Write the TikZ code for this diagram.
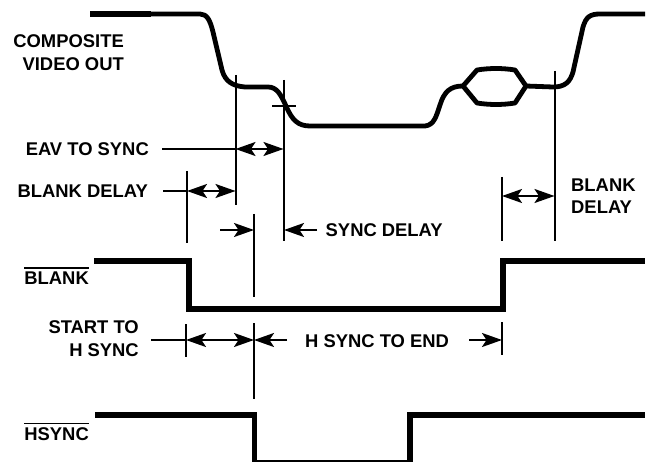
\documentclass[tikz,border=0pt]{standalone}
\usepackage{fontspec}
\setmainfont{Liberation Sans}
\usetikzlibrary{arrows.meta}
\newcommand{\barred}[1]{\vbox{\hrule height 1.5pt\kern3.6pt\hbox{#1}}}
\tikzset{
    wave/.style={line width=4.8pt, line join=round},
    pulse/.style={line width=5.5pt, line join=miter},
    marker/.style={line width=2pt},
    dim/.style={line width=2pt, {Stealth[length=20pt,width=14pt,inset=4.5pt]}-{Stealth[length=20pt,width=14pt,inset=4.5pt]}},
    dimto/.style={line width=2pt, -{Stealth[length=20pt,width=14pt,inset=4.5pt]}},
    lbl/.style={font=\bfseries\fontsize{18.4}{22.5}\selectfont, inner sep=0pt, align=right},
}
\begin{document}
\begin{tikzpicture}[x=1pt, y=-1pt]
    \useasboundingbox (0,0) rectangle (647,462);
    % composite video
    \draw[line width=5.5pt] (90,14) -- (151,14);
    \draw[wave] (151,14) -- (200,14) .. controls (207,14) and (210,20) .. (213,32)
        -- (222,70) .. controls (225,81) and (232,86) .. (245,87) -- (268,87)
        .. controls (277,87) and (281,95) .. (286,106) .. controls (292,120) and (298,126) .. (310,126)
        -- (425,126) .. controls (434,125) and (436,117) .. (440,105) .. controls (444,92) and (450,86) .. (463,86);
    \draw[wave] (463,86) -- (477,70) .. controls (490,68) and (502,68) .. (515,70) -- (526,86);
    \draw[wave] (463,86) -- (477,103) .. controls (490,105) and (502,105) .. (515,103) -- (526,86);
    \draw[wave] (526,86) -- (553,87) .. controls (565,87) and (570,82) .. (573,72)
        -- (583,27) .. controls (586,17) and (590,14) .. (600,14) -- (645,14);
    \node[lbl, anchor=east] (video) at (124,52.5) {COMPOSITE\\VIDEO OUT};
    % markers
    \coordinate (eavtop) at (235.5,75);
    \coordinate (eavbot) at (235.5,205);
    \coordinate (synctop) at (283.5,80);
    \coordinate (syncbot) at (283.5,241);
    \coordinate (bdtop) at (187,171);
    \coordinate (bdbot) at (187,243);
    \coordinate (hstop) at (254,214);
    \coordinate (hsbot) at (254,297);
    \coordinate (endtop) at (502,177);
    \coordinate (endbot) at (502,241);
    \coordinate (rbtop) at (554.5,71);
    \coordinate (rbbot) at (554.5,241);
    \draw[marker] (eavtop) -- (eavbot);
    \draw[marker] (synctop) -- (syncbot);
    \draw[marker] (bdtop) -- (bdbot);
    \draw[marker] (hstop) -- (hsbot);
    \draw[marker] (endtop) -- (endbot);
    \draw[marker] (rbtop) -- (rbbot);
    \coordinate (tickl) at (272,106);
    \coordinate (tickr) at (296,106);
    \draw[marker] (tickl) -- (tickr);
    % delays
    \node[lbl, anchor=east] (eav) at (149,149) {EAV TO SYNC};
    \coordinate (eavend) at (162,149);
    \coordinate (eavl) at (235.5,149);
    \coordinate (eavr) at (283.5,149);
    \draw[marker] (eavend) -- (eavl);
    \draw[dim] (eavl) -- (eavr);
    \node[lbl, anchor=east] (bdelay) at (148,191) {BLANK DELAY};
    \coordinate (bdend) at (163,191);
    \coordinate (bdl) at (187,191);
    \coordinate (bdr) at (235.5,191);
    \draw[marker] (bdend) -- (bdl);
    \draw[dim] (bdl) -- (bdr);
    \coordinate (rbl) at (502,196);
    \coordinate (rbr) at (554.5,196);
    \draw[dim] (rbl) -- (rbr);
    \node[lbl, anchor=west, align=left] (rdelay) at (571,196) {BLANK\\DELAY};
    \coordinate (sdl) at (220,230);
    \coordinate (sdm) at (254,230);
    \coordinate (sdn) at (284,230);
    \coordinate (sdr) at (317,230);
    \draw[dimto] (sdl) -- (sdm);
    \draw[dimto] (sdr) -- (sdn);
    \node[lbl, anchor=west] (sdelay) at (325.5,230) {SYNC DELAY};
    % blank
    \draw[pulse] (94,261) -- (189,261) -- (189,309) -- (503,309) -- (503,261) -- (645,261);
    \node[lbl, anchor=east] (blank) at (89,276) {\barred{BLANK}};
    % start to h sync
    \coordinate (stl) at (151,340);
    \coordinate (sttop) at (186,324);
    \coordinate (stm) at (186,340);
    \coordinate (stbot) at (186,357);
    \coordinate (hsm) at (254,340);
    \coordinate (enl) at (287,340);
    \coordinate (hstop2) at (254,323);
    \coordinate (hsbot2) at (254,399);
    \coordinate (etop) at (502,322);
    \coordinate (em) at (502,340);
    \coordinate (ebot) at (502,355);
    \coordinate (etail) at (469,340);
    \draw[marker] (sttop) -- (stbot);
    \draw[marker] (hstop2) -- (hsbot2);
    \draw[marker] (etop) -- (ebot);
    \draw[marker] (stl) -- (stm);
    \draw[dim] (stm) -- (hsm);
    \draw[dimto] (enl) -- (hsm);
    \draw[dimto] (etail) -- (em);
    \node[lbl, anchor=east] (start) at (139,338.5) {START TO\\H SYNC};
    \node[lbl, anchor=west] (hsend) at (305,341) {H SYNC TO END};
    % hsync
    \draw[pulse] (95,415) -- (254.5,415) -- (254.5,462.5) -- (410,462.5) -- (410,415) -- (645,415);
    \node[lbl, anchor=east] (hsync) at (89,432) {\barred{HSYNC}};
\end{tikzpicture}
\end{document}
